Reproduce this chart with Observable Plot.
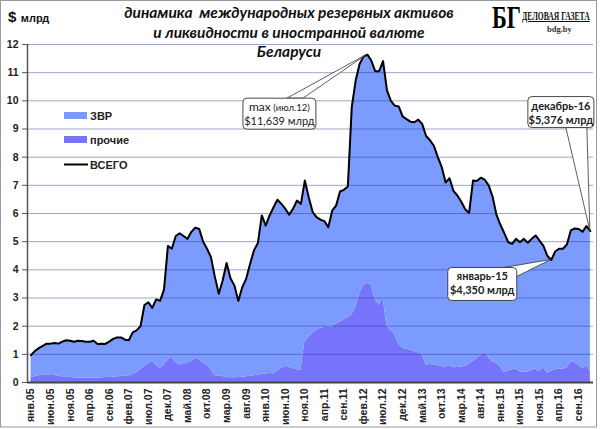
<!DOCTYPE html>
<html><head><meta charset="utf-8">
<script src="https://cdn.jsdelivr.net/npm/d3@7"></script>
<script src="https://cdn.jsdelivr.net/npm/@observablehq/plot@0.6"></script>
<style>
body{margin:0;background:#fff;}
#wrap{position:relative;width:600px;height:429px;overflow:hidden;background:#fff;}
.t{position:absolute;white-space:nowrap;line-height:1;}
</style></head><body>
<div id="wrap"></div>
<script>
// ---- data ----
const tickLabels = ["янв.05","июн.05","ноя.05","апр.06","сен.06","фев.07","июл.07","дек.07","май.08","окт.08","мар.09","авг.09","янв.10","июн.10","ноя.10","апр.11","сен.11","фев.12","июл.12","дек.12","май.13","окт.13","мар.14","авг.14","янв.15","июн.15","ноя.15","апр.16","сен.16"];
const seriesNames = ["ЗВР","прочие","ВСЕГО"];
const total = [
0.97,1.12,1.22,1.3,1.38,1.38,1.4,1.38,1.45,1.5,
1.48,1.45,1.48,1.47,1.45,1.45,1.48,1.37,1.38,1.37,
1.45,1.55,1.6,1.6,1.52,1.5,1.78,1.85,2.0,2.75,
2.85,2.65,2.95,2.9,3.3,4.85,4.75,5.2,5.3,5.2,
5.1,5.35,5.5,5.45,5.0,4.75,4.45,3.75,3.15,3.62,
4.24,3.7,3.44,2.89,3.38,3.68,4.21,4.69,4.95,5.93,
5.57,5.93,6.22,6.49,6.34,6.17,5.96,6.17,6.46,6.34,
7.17,6.58,6.05,5.87,5.78,5.73,5.51,6.1,6.28,6.78,
6.84,6.96,9.78,10.72,11.31,11.57,11.639,11.43,11.05,11.05,
11.41,10.37,10.0,9.83,9.8,9.45,9.35,9.26,9.24,9.33,
9.18,8.75,8.6,8.4,8.0,7.65,7.1,7.25,6.8,6.64,
6.42,6.15,6.02,7.17,7.15,7.27,7.2,7.0,6.6,5.95,
5.6,5.3,4.98,4.92,5.1,4.98,5.1,4.96,5.1,5.22,
5.04,4.85,4.5,4.35,4.65,4.75,4.75,4.9,5.4,5.47,
5.45,5.35,5.55,5.376];
const prochie = [
0.17,0.2,0.25,0.28,0.26,0.25,0.25,0.22,0.2,0.19,
0.18,0.17,0.16,0.15,0.15,0.15,0.15,0.16,0.17,0.18,
0.18,0.19,0.2,0.21,0.22,0.24,0.28,0.35,0.45,0.55,
0.68,0.75,0.6,0.5,0.62,0.8,0.9,0.72,0.62,0.65,
0.68,0.75,0.88,0.8,0.68,0.62,0.45,0.25,0.22,0.21,
0.18,0.17,0.17,0.18,0.19,0.2,0.22,0.24,0.27,0.28,
0.3,0.33,0.3,0.42,0.5,0.57,0.55,0.5,0.45,0.43,
1.45,1.6,1.75,1.85,1.93,1.95,1.95,1.97,2.08,2.15,
2.22,2.3,2.4,2.65,3.15,3.45,3.52,3.45,2.95,2.75,
3.02,2.0,1.85,1.7,1.35,1.22,1.18,1.15,1.1,1.05,
1.0,0.62,0.64,0.63,0.6,0.57,0.54,0.6,0.52,0.53,
0.55,0.58,0.65,0.75,0.84,0.96,1.07,0.88,0.72,0.69,
0.56,0.35,0.42,0.45,0.48,0.38,0.37,0.37,0.43,0.48,
0.38,0.52,0.33,0.4,0.45,0.49,0.47,0.52,0.72,0.7,
0.62,0.5,0.58,0.43];
const annIndex = [86, 143, 133];
const annValue = [11.639, 5.376, 4.350];
const annText = [["max","(июл.12)","$11,639 млрд"],["декабрь-16","","$5,376 млрд"],["январь-15","","$4,350 млрд"]];

// ---- build ----
const colors = ["#7b9bff", "#7674fa"];
const rows = [];
total.forEach((v, i) => {
  rows.push({i, series: seriesNames[1], value: prochie[i]});
  rows.push({i, series: seriesNames[0], value: v - prochie[i]});
});
const xMin = -0.9, xMax = 143.8;

const plot = Plot.plot({
  width: 600, height: 429,
  marginLeft: 27, marginRight: 7, marginTop: 44, marginBottom: 47,
  x: {domain: [xMin, xMax], axis: null},
  y: {domain: [0, 12], axis: null},
  color: {domain: [seriesNames[0], seriesNames[1]], range: colors},
  style: {fontFamily: "'Liberation Sans', Arial, sans-serif", fontSize: "10px", fontWeight: "bold", color: "#222", background: "transparent"},
  marks: [
    Plot.areaY(rows, {x: "i", y: "value", fill: "series", order: [seriesNames[1], seriesNames[0]]}),
    Plot.ruleY(d3.range(1, 13), {stroke: "#2a3a80", strokeOpacity: 0.45, strokeWidth: 1}),
    Plot.lineY(total, {stroke: "#000", strokeWidth: 2, strokeLinejoin: "round"}),
    Plot.ruleY([0], {stroke: "#444", strokeWidth: 2}),
    Plot.ruleX([xMin], {y1: 0, y2: 12, stroke: "#555", strokeWidth: 1.5}),
    Plot.axisY({ticks: d3.range(0, 13), label: null, tickSize: 5, tickPadding: 4, stroke: "#555", fill: "#222", fontSize: 10.5}),
    Plot.axisX({ticks: d3.range(0, 141, 5), label: null, tickFormat: i => tickLabels[i / 5], tickRotate: -90, tickSize: 0, tickPadding: 6, fill: "#222", fontSize: 10.5})
  ]
});

const wrap = document.getElementById("wrap");
wrap.appendChild(plot);
plot.style.position = "absolute"; plot.style.left = "0"; plot.style.top = "0";

const sx = plot.scale("x").apply, sy = plot.scale("y").apply;
const svg = d3.select(plot);

// legend
const lg = svg.append("g").attr("font-family", "'Liberation Sans', Arial, sans-serif").attr("font-size", 11)
  .attr("font-weight", "bold").attr("fill", "#222").attr("text-anchor", "start");
[[0, 115.5], [1, 139.5]].forEach(([k, yy]) => {
  lg.append("rect").attr("x", 64).attr("y", yy - 3.5).attr("width", 23).attr("height", 7).attr("fill", colors[k]);
  lg.append("text").attr("x", 90).attr("y", yy + 4).text(seriesNames[k]);
});
lg.append("line").attr("x1", 64).attr("x2", 88).attr("y1", 164.5).attr("y2", 164.5).attr("stroke", "#000").attr("stroke-width", 2);
lg.append("text").attr("x", 90).attr("y", 168.5).text(seriesNames[2]);

// callouts (box offsets in px relative to anchor)
const boxes = [
  {rect: [-124, 44, 73, 31], wedge: [[-80, 44], [-64, 44]], bold: false},
  {rect: [-62, -134, 66, 31], wedge: [[-24, -103], [-3, -103]], bold: true},
  {rect: [-103, 8, 69, 33], wedge: [[-47, 8], [-34, 17]], bold: true}
];
const cg = svg.append("g").attr("font-family", "Lato, 'Open Sans', sans-serif").attr("fill", "#222");
annIndex.forEach((ix, k) => {
  const ax = sx(ix), ay = sy(annValue[k]);
  const b = boxes[k];
  const [rx, ry, rw, rh] = b.rect;
  cg.append("path")
    .attr("d", `M${ax + b.wedge[0][0]},${ay + b.wedge[0][1]}L${ax},${ay}L${ax + b.wedge[1][0]},${ay + b.wedge[1][1]}Z`)
    .attr("fill", "#fff").attr("stroke", "#333").attr("stroke-width", 0.8);
  cg.append("rect").attr("x", ax + rx).attr("y", ay + ry).attr("width", rw).attr("height", rh)
    .attr("rx", 4).attr("fill", "#fff").attr("stroke", "#333").attr("stroke-width", 0.9);
  const cx = ax + rx + rw / 2;
  const t1 = cg.append("text").attr("x", cx).attr("y", ay + ry + 13).attr("text-anchor", "middle")
    .attr("font-weight", b.bold ? "bold" : "normal").attr("font-size", b.bold ? 11 : 12);
  t1.append("tspan").text(annText[k][0]);
  if (annText[k][1]) t1.append("tspan").attr("font-size", 9.5).text(" " + annText[k][1]);
  cg.append("text").attr("x", cx).attr("y", ay + ry + 27).attr("text-anchor", "middle")
    .attr("font-weight", b.bold ? "bold" : "normal").attr("font-size", 11).text(annText[k][2]);
});

// outer border
svg.append("rect").attr("x", 0.5).attr("y", 0.5).attr("width", 596).attr("height", 426.5)
  .attr("fill", "none").attr("stroke", "#999");

// titles and logo
function addText(html, css) {
  const d = document.createElement("div");
  d.className = "t"; d.innerHTML = html; Object.assign(d.style, css); wrap.appendChild(d);
  return d;
}
const titleCss = {fontFamily: "Lato, sans-serif", fontWeight: "bold", fontStyle: "italic", fontSize: "15.5px", color: "#111", width: "600px", textAlign: "center", left: "-11px"};
addText("динамика&nbsp; международных резервных активов", Object.assign({}, titleCss, {top: "5px"}));
addText("и ликвидности в иностранной валюте", Object.assign({}, titleCss, {top: "25px"}));
addText("Беларуси", Object.assign({}, titleCss, {top: "44px"}));
addText("<span style='font-size:15px'>$</span> <span style='font-size:11px'>млрд</span>", {fontFamily: "'Liberation Sans', sans-serif", fontWeight: "bold", color: "#111", left: "8px", top: "9px"});
addText("БГ", {fontFamily: "'Liberation Serif', serif", fontWeight: "bold", fontSize: "31px", color: "#000", left: "492px", top: "2px", transform: "scaleX(0.72)", transformOrigin: "left top"});
addText("ДЕЛОВАЯ ГАЗЕТА", {fontFamily: "'Liberation Serif', serif", fontWeight: "bold", fontSize: "11.5px", color: "#111", left: "522px", top: "11px", transform: "scaleX(0.66)", transformOrigin: "left top", textDecoration: "underline"});
addText("bdg.by", {fontFamily: "'Liberation Serif', serif", fontWeight: "bold", fontSize: "8.5px", color: "#333", left: "547px", top: "25px"});
</script>
</body></html>
